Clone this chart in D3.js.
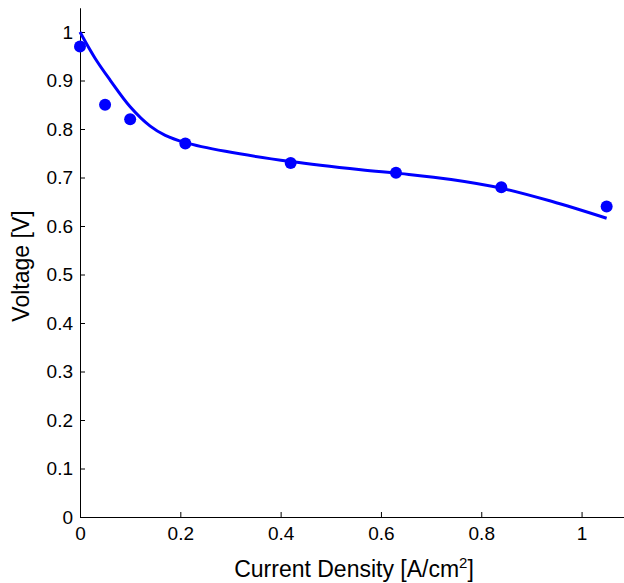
<!DOCTYPE html>
<html lang="en">
<head>
  <meta charset="UTF-8">
  <title>Polarization Curve</title>
  <script src="https://d3js.org/d3.v7.min.js"></script>
  <style>
    body { margin: 0; background: #fff; }
    text { font-family: "Liberation Sans", Arial, Helvetica, sans-serif; fill: #000; }
  </style>
</head>
<body>

<div id="chart"></div>

<script>
  // measured points
  const currentDensity = [0, 0.05, 0.1, 0.21, 0.42, 0.63, 0.84, 1.05];
  const voltage = [0.97, 0.85, 0.82, 0.77, 0.73, 0.71, 0.68, 0.64];

  // fitted curve
  const fitX = [0, 0.03, 0.06, 0.1, 0.14, 0.17, 0.21, 0.29, 0.42, 0.56, 0.64, 0.74, 0.84, 0.94, 1.05];
  const fitY = [1.0, 0.946, 0.901, 0.846, 0.806, 0.787, 0.772, 0.754, 0.733, 0.716, 0.708, 0.696, 0.678, 0.651, 0.616];

  const xTicks = [0, 0.2, 0.4, 0.6, 0.8, 1];
  const yTicks = [0, 0.1, 0.2, 0.3, 0.4, 0.5, 0.6, 0.7, 0.8, 0.9, 1];

  const width = 624;
  const height = 583;

  const svg = d3.select("#chart")
    .append("svg")
    .attr("width", width)
    .attr("height", height);

  svg.append("rect")
    .attr("width", width)
    .attr("height", height)
    .attr("fill", "#fff");

  // scales
  const x = d3.scaleLinear().domain([0, 1.085]).range([80, 624.2]);
  const y = d3.scaleLinear().domain([0, 1.05]).range([517, 7.75]);

  // axes (ticks pointing inward)
  const xAxis = svg.append("g")
    .attr("transform", `translate(0,${y(0)})`)
    .call(d3.axisBottom(x)
      .tickValues(xTicks)
      .tickFormat(d3.format("~g"))
      .tickSizeInner(-5)
      .tickSizeOuter(0)
      .tickPadding(10));

  const yAxis = svg.append("g")
    .attr("transform", `translate(${x(0)},0)`)
    .call(d3.axisLeft(y)
      .tickValues(yTicks)
      .tickFormat(d3.format("~g"))
      .tickSizeInner(-5)
      .tickSizeOuter(0)
      .tickPadding(7));

  [xAxis, yAxis].forEach(g => {
    g.selectAll("text").attr("font-size", "19px").attr("font-family", null);
    g.selectAll("line, path").attr("stroke", "#000").attr("stroke-width", 1);
    g.attr("font-family", null).attr("font-size", null);
  });

  // fitted line
  const fit = fitX.map((d, i) => [d, fitY[i]]);
  svg.append("path")
    .datum(fit)
    .attr("fill", "none")
    .attr("stroke", "#0000ff")
    .attr("stroke-width", 3)
    .attr("d", d3.line()
      .x(d => x(d[0]))
      .y(d => y(d[1]))
      .curve(d3.curveCatmullRom.alpha(0.5)));

  // data points
  svg.selectAll("circle.pt")
    .data(currentDensity.map((d, i) => [d, voltage[i]]))
    .enter()
    .append("circle")
    .attr("class", "pt")
    .attr("cx", d => x(d[0]))
    .attr("cy", d => y(d[1]))
    .attr("r", 6)
    .attr("fill", "#0000ff");

  // axis titles
  const xt = svg.append("text")
    .attr("x", 354)
    .attr("y", 577)
    .attr("text-anchor", "middle")
    .attr("font-size", "23px");
  xt.append("tspan").text("Current Density [A/cm");
  xt.append("tspan").attr("dy", -9).attr("font-size", "15px").text("2");
  xt.append("tspan").attr("dy", 9).text("]");

  svg.append("text")
    .attr("transform", "translate(29,266) rotate(-90)")
    .attr("text-anchor", "middle")
    .attr("font-size", "23px")
    .text("Voltage [V]");
</script>

</body>
</html>
